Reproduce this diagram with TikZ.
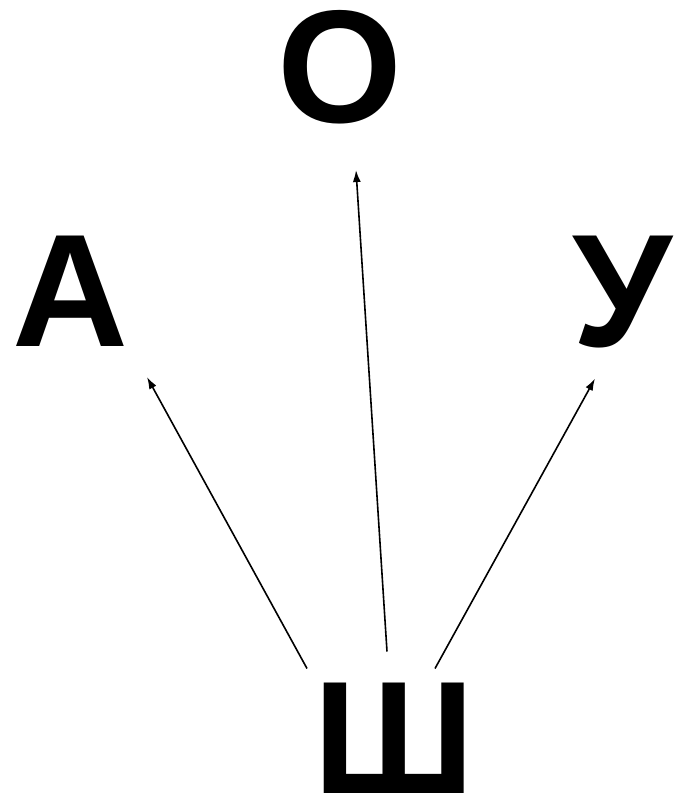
\documentclass[tikz,border=0pt]{standalone}
\usepackage{fontspec}
\setmainfont{Liberation Sans}
\usetikzlibrary{arrows.meta}
\begin{document}
\begin{tikzpicture}[x=1pt, y=1pt,
    >={Latex[length=12pt,width=8pt]}, line width=1.6pt,
    letter/.style={inner sep=0pt, outer sep=0pt, anchor=base,
      font=\fontsize{160.6}{160.6}\selectfont\bfseries}]

    \useasboundingbox (0,0) rectangle (679,794);

    % === top row: O ===
    \node[letter] (O) at (340, 671.5) {О};

    % === middle row: A, U ===
    \node[letter] (A) at (70.5, 447) {А};
    \node[letter] (U) at (622, 447)  {У};

    % === bottom row: Sh ===
    \node[letter] (Sh) at (394, 1) {Ш};

    % === arrows ===
    % Sh -> A
    \draw[->] ([shift={(-87,14)}]Sh.north) -- ([shift={(76.5,-30)}]A.south);

    % Sh -> O
    \draw[->] ([shift={(-7,31)}]Sh.north) -- ([shift={(16,-46)}]O.south);

    % Sh -> U
    \draw[->] ([shift={(41,14)}]Sh.north) -- ([shift={(-27,-30)}]U.south);

  \end{tikzpicture}
\end{document}
